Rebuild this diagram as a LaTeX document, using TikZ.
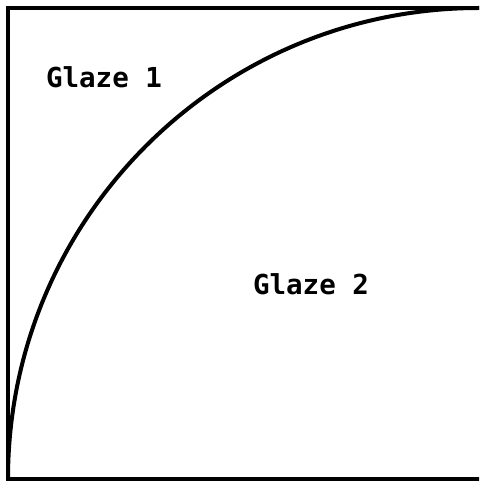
\documentclass[tikz,border=0pt]{standalone}
\usepackage{fontspec}
\setmonofont{DejaVu Sans Mono}
\begin{document}
\begin{tikzpicture}[x=1pt,y=-1pt,
  edge/.style={line width=4pt},
  lbl/.style={font=\ttfamily\bfseries\fontsize{27.5}{32}\selectfont, inner sep=0pt}]
\useasboundingbox (0,0) rectangle (479,481);
\begin{scope}
\clip (0,0) rectangle (479,481);
\draw[edge] (8,8) rectangle (490,479);
\coordinate (start) at (8,479);
\draw[edge] (start) arc[start angle=180, end angle=90, x radius=471, y radius=-471];
\end{scope}
\node[lbl] (g1) at (104,77) {Glaze 1};
\node[lbl] (g2) at (311,284) {Glaze 2};
\end{tikzpicture}
\end{document}
